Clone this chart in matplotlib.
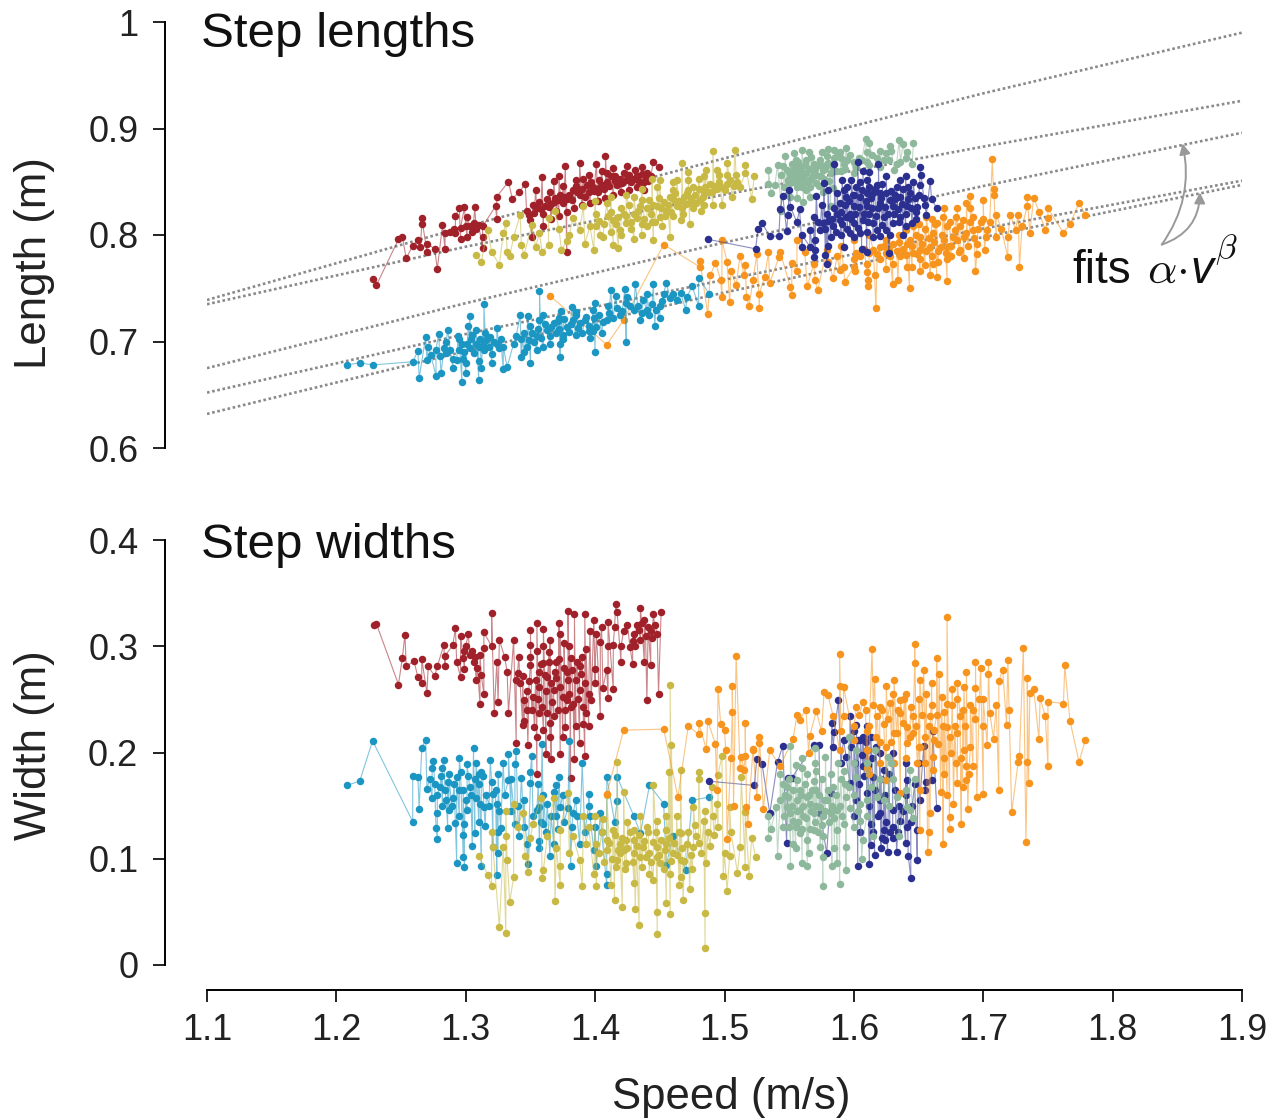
import matplotlib
matplotlib.use('Agg')
import matplotlib.pyplot as plt

plt.rcParams['font.family'] = ['Liberation Sans', 'DejaVu Sans']
plt.rcParams['mathtext.fontset'] = 'cm'

# colours of the six walkers
red = '#A0212A'
olive = '#C8B945'
blue = '#1B96C2'
orange = '#F7941E'
sage = '#8DB89B'
navy = '#2B2F8F'

fit_speed = [1.1, 1.3, 1.5, 1.7, 1.9]
fit_a = [0.739, 0.808, 0.872, 0.933, 0.990]
fit_b = [0.735, 0.789, 0.838, 0.883, 0.926]
fit_c = [0.675, 0.736, 0.793, 0.846, 0.896]
fit_d = [0.652, 0.707, 0.758, 0.806, 0.851]
fit_e = [0.632, 0.691, 0.746, 0.798, 0.847]

# step length (speed, length)
red_len = [(1.231,.753),(1.228,.759),(1.248,.796),(1.251,.798),(1.254,.778),(1.278,.768),(1.266,.816),(1.266,.810),(1.263,.795),(1.259,.790),(1.265,.789),(1.270,.792),(1.270,.784),(1.276,.787),(1.284,.787),(1.282,.809),(1.284,.802),(1.295,.825),(1.299,.826),(1.307,.826),(1.292,.818),(1.301,.817),(1.306,.811),(1.296,.807),(1.313,.808),(1.292,.802),(1.301,.798),(1.313,.798),(1.296,.796),(1.313,.788),(1.324,.836),(1.323,.827),(1.333,.850),(1.336,.834),(1.324,.815),
 (1.341,.840),(1.346,.848),(1.354,.842),(1.359,.854),(1.368,.851),(1.372,.855),(1.377,.865),(1.388,.868),(1.401,.867),(1.408,.874),(1.414,.863),(1.431,.861),(1.445,.869),(1.449,.864),(1.440,.858),
 (1.347,.823),(1.352,.828),(1.357,.831),(1.363,.834),(1.368,.831),(1.373,.838),(1.378,.834),(1.383,.842),(1.388,.838),(1.394,.847),(1.399,.841),(1.404,.845),(1.409,.850),(1.417,.847),(1.424,.852),(1.432,.855),(1.437,.849),(1.350,.814),(1.351,.798),(1.360,.820),(1.370,.823),(1.378,.784),(1.391,.853),(1.409,.858),(1.422,.858),
 (1.349,.819),(1.353,.821),(1.355,.825),(1.358,.824),(1.361,.827),(1.364,.826),(1.366,.829),(1.369,.835),(1.371,.833),(1.375,.830),(1.376,.836),(1.380,.838),(1.382,.833),(1.385,.846),(1.386,.840),(1.390,.843),(1.392,.836),(1.395,.840),(1.397,.850),(1.398,.845),(1.402,.840),(1.403,.852),(1.406,.847),(1.407,.843),(1.411,.846),(1.412,.855),(1.415,.851),(1.419,.853),(1.421,.849),(1.426,.856),(1.428,.850),(1.430,.853),(1.434,.851),(1.436,.857),(1.439,.853),(1.441,.851),(1.443,.855),(1.300,.808),(1.303,.808),(1.308,.806),(1.310,.809),(1.288,.803),(1.291,.806),(1.305,.803),
 (1.360,.808),(1.366,.815),(1.372,.818),(1.378,.822),(1.384,.825),(1.390,.828),(1.396,.830),(1.402,.832),(1.408,.835),(1.414,.838),(1.420,.840),(1.426,.842),(1.432,.845),(1.438,.842),(1.365,.840),(1.375,.846),(1.385,.852),(1.395,.856),(1.405,.860),(1.415,.855),(1.425,.865),(1.436,.864)]
olive_len = [(1.308,.781),(1.312,.775),(1.326,.772),(1.320,.784),(1.317,.805),(1.331,.811),(1.342,.819),(1.334,.780),(1.345,.781),(1.332,.784),(1.343,.791),(1.337,.798),(1.329,.802),(1.354,.789),(1.359,.784),(1.364,.791),(1.351,.809),(1.357,.802),(1.364,.816),(1.369,.823),(1.372,.806),(1.374,.786),(1.378,.794),(1.383,.816),(1.392,.792),(1.399,.786),(1.391,.827),(1.401,.808),(1.409,.830),(1.414,.791),(1.418,.788),(1.430,.796),(1.436,.800),(1.445,.795),(1.458,.798),(1.473,.810),(1.466,.814),(1.467,.868),(1.472,.859),(1.491,.879),(1.508,.880),(1.502,.868),(1.516,.866),(1.523,.855),(1.521,.834),(1.506,.836),(1.498,.828),(1.491,.828),(1.482,.823),(1.516,.858),(1.486,.861),(1.494,.861),(1.502,.856),(1.509,.856),(1.480,.853),(1.463,.852),(1.450,.852),(1.444,.853),
 (1.414,.814),(1.422,.820),(1.430,.836),(1.435,.827),(1.442,.833),(1.450,.817),(1.458,.836),(1.463,.827),(1.471,.839),(1.476,.845),(1.484,.839),(1.489,.848),(1.497,.845),(1.504,.852),(1.512,.845),(1.424,.811),(1.440,.808),(1.455,.823),(1.419,.805),(1.401,.820),(1.406,.798),(1.430,.820),(1.448,.827),(1.473,.830),(1.460,.842),(1.481,.833),
 (1.403,.813),(1.407,.810),(1.410,.818),(1.412,.822),(1.416,.810),(1.418,.817),(1.420,.825),(1.424,.818),(1.426,.828),(1.428,.812),(1.432,.816),(1.433,.823),(1.436,.833),(1.438,.815),(1.440,.825),(1.443,.820),(1.445,.828),(1.446,.812),(1.449,.835),(1.451,.825),(1.453,.831),(1.454,.818),(1.456,.828),(1.459,.822),(1.461,.833),(1.462,.839),(1.465,.832),(1.467,.825),(1.469,.836),(1.470,.829),(1.472,.842),(1.474,.835),(1.477,.838),(1.478,.830),(1.480,.843),(1.483,.836),(1.485,.845),(1.487,.840),(1.490,.840),(1.492,.846),(1.494,.843),(1.496,.850),(1.500,.842),(1.502,.848),(1.507,.846),(1.510,.850),
 (1.380,.800),(1.388,.805),(1.396,.808),(1.404,.800),(1.412,.803),(1.420,.800),(1.428,.806),(1.436,.810),(1.444,.812),(1.452,.808),(1.460,.818),(1.468,.820),(1.476,.825),(1.484,.828),(1.400,.832),(1.412,.836),(1.424,.838),(1.436,.843),(1.448,.845),(1.460,.850),(1.472,.852),(1.484,.855),(1.496,.856)]
blue_len = [(1.208,.678),(1.218,.680),(1.228,.678),(1.259,.681),(1.264,.666),(1.277,.668),(1.281,.670),(1.297,.662),(1.300,.670),(1.310,.664),(1.312,.675),(1.329,.674),(1.332,.676),(1.320,.680),(1.343,.685),(1.350,.680),(1.373,.685),(1.400,.690),(1.424,.700),(1.446,.715),(1.470,.730),(1.480,.733),(1.488,.745),(1.480,.760),(1.475,.752),(1.455,.755),(1.445,.754),(1.431,.754),(1.423,.749),(1.412,.748),(1.416,.743),(1.400,.736),(1.382,.732),(1.374,.729),(1.357,.747),(1.348,.724),(1.342,.725),(1.314,.735),(1.303,.724),(1.302,.715),(1.286,.711),(1.279,.707),(1.269,.704),(1.263,.691),(1.271,.695),(1.324,.713),(1.294,.705),(1.308,.711),
 (1.270,.683),(1.277,.692),(1.285,.689),(1.293,.683),(1.301,.698),(1.308,.698),(1.316,.701),(1.324,.698),(1.306,.689),(1.298,.684),(1.314,.692),(1.329,.695),(1.337,.698),(1.347,.695),(1.355,.705),(1.363,.711),(1.370,.708),(1.378,.714),(1.368,.717),(1.357,.720),(1.388,.717),(1.396,.703),(1.401,.714),(1.409,.720),(1.419,.725),(1.430,.730),(1.440,.730),(1.450,.733),(1.460,.745),(1.471,.742),(1.453,.745),(1.437,.739),(1.424,.736),(1.393,.723),(1.383,.720),(1.373,.698),(1.360,.695),(1.345,.708),(1.339,.705),
 (1.273,.687),(1.280,.686),(1.283,.694),(1.288,.692),(1.290,.684),(1.295,.692),(1.297,.698),(1.299,.690),(1.303,.694),(1.304,.702),(1.310,.695),(1.311,.702),(1.313,.697),(1.318,.695),(1.319,.704),(1.322,.700),(1.326,.694),(1.327,.702),(1.343,.702),(1.349,.701),(1.351,.708),(1.353,.700),(1.356,.712),(1.358,.703),(1.361,.716),(1.365,.705),(1.366,.714),(1.371,.719),(1.372,.712),(1.375,.706),(1.376,.721),(1.380,.709),(1.381,.716),(1.385,.725),(1.387,.713),(1.390,.708),(1.392,.720),(1.395,.715),(1.398,.710),(1.399,.722),(1.403,.725),(1.406,.718),(1.411,.727),(1.414,.722),(1.417,.731),(1.421,.729),(1.427,.733),(1.433,.733),(1.436,.727),(1.442,.725),(1.444,.735),(1.447,.730),(1.452,.738),(1.458,.741),(1.463,.739),(1.466,.746),
 (1.285,.700),(1.295,.702),(1.305,.706),(1.315,.708),(1.290,.675),(1.300,.680),(1.310,.682),(1.320,.688),(1.345,.690),(1.355,.692),(1.365,.698),(1.375,.702),(1.385,.706),(1.395,.710),(1.405,.708),(1.350,.715),(1.360,.725),(1.372,.722),(1.385,.728),(1.398,.730),(1.410,.733),(1.425,.742),(1.440,.745),(1.450,.722),(1.435,.720)]
orange_len = [(1.365,.743),(1.409,.697),(1.453,.791),(1.422,.720),
 (1.707,.871),(1.774,.830),(1.779,.819),(1.767,.810),(1.762,.802),(1.750,.825),(1.750,.816),(1.748,.805),(1.739,.835),(1.734,.836),(1.743,.822),(1.734,.827),(1.727,.819),(1.728,.770),(1.719,.779),(1.736,.802),(1.721,.819),(1.719,.798),(1.710,.819),(1.708,.843),(1.708,.838),(1.700,.833),(1.690,.837),(1.694,.766),(1.701,.786),(1.672,.757),(1.664,.761),(1.659,.762),(1.643,.750),(1.651,.766),(1.630,.754),(1.634,.758),(1.617,.731),(1.611,.752),(1.611,.758),(1.593,.756),(1.584,.760),(1.572,.748),(1.564,.752),(1.552,.744),(1.551,.751),(1.527,.731),(1.519,.733),(1.487,.726),(1.498,.795),(1.481,.776),(1.481,.770),(1.493,.774),(1.502,.775),(1.512,.780),(1.516,.772),(1.505,.766),(1.515,.762),(1.489,.762),(1.497,.758),(1.509,.753),(1.522,.758),(1.531,.761),(1.527,.745),(1.535,.755),(1.504,.737),(1.498,.742),(1.517,.742),(1.525,.782),(1.534,.784),(1.543,.784),(1.542,.779),(1.552,.774),(1.556,.766),(1.556,.795),(1.562,.784),(1.569,.773),(1.570,.758),(1.589,.767),(1.601,.766),(1.616,.762),
 (1.620,.789),(1.630,.792),(1.641,.792),(1.646,.783),(1.651,.798),(1.661,.802),(1.667,.789),(1.672,.808),(1.677,.798),(1.682,.808),(1.687,.802),(1.692,.805),(1.672,.777),(1.661,.773),(1.651,.777),(1.641,.770),(1.630,.773),(1.620,.777),(1.610,.773),(1.600,.777),(1.592,.770),(1.587,.780),(1.579,.786),(1.679,.817),(1.669,.817),(1.687,.830),(1.692,.817),(1.703,.805),(1.710,.798),(1.695,.792),(1.659,.789),(1.636,.780),(1.656,.817),(1.646,.808),(1.625,.783),(1.612,.783),(1.602,.783),(1.672,.789),(1.682,.786),(1.651,.786),(1.664,.811),
 (1.605,.780),(1.608,.787),(1.615,.786),(1.618,.782),(1.623,.790),(1.627,.786),(1.628,.780),(1.633,.785),(1.635,.793),(1.638,.787),(1.640,.781),(1.643,.795),(1.645,.790),(1.648,.800),(1.649,.782),(1.653,.792),(1.655,.806),(1.656,.785),(1.658,.797),(1.660,.780),(1.662,.793),(1.663,.810),(1.665,.785),(1.668,.800),(1.670,.795),(1.671,.783),(1.674,.812),(1.675,.790),(1.678,.805),(1.680,.795),(1.681,.784),(1.684,.814),(1.685,.798),(1.688,.790),(1.690,.812),(1.693,.797),(1.696,.806),(1.698,.812),(1.702,.798),(1.705,.812),(1.714,.806),(1.725,.805),(1.730,.808),
 (1.600,.795),(1.612,.800),(1.625,.795),(1.635,.800),(1.645,.770),(1.655,.772),(1.665,.775),(1.675,.780),(1.685,.778),(1.695,.782),(1.650,.810),(1.660,.815),(1.670,.825),(1.680,.825),(1.690,.825),(1.640,.805),(1.625,.768),(1.610,.765),(1.600,.770),(1.590,.790),(1.580,.775),(1.700,.815)]
sage_len = [(1.609,.890),(1.594,.882),(1.612,.886),(1.635,.889),(1.646,.886),(1.638,.885),(1.641,.878),(1.629,.879),(1.620,.879),(1.645,.867),(1.636,.869),(1.631,.861),(1.623,.870),(1.614,.875),(1.606,.870),(1.589,.878),(1.580,.881),(1.560,.880),(1.554,.877),(1.547,.874),(1.541,.866),(1.534,.861),(1.534,.848),(1.539,.847),(1.536,.839),(1.544,.823),(1.551,.836),(1.561,.831),(1.544,.856),
 (1.548,.861),(1.553,.855),(1.558,.864),(1.563,.858),(1.569,.867),(1.574,.855),(1.579,.867),(1.582,.858),(1.587,.874),(1.592,.867),(1.597,.875),(1.602,.864),(1.556,.845),(1.563,.842),(1.571,.849),(1.551,.849),(1.558,.855),(1.566,.852),(1.546,.845),(1.576,.861),(1.574,.870),(1.563,.870),(1.556,.864),(1.579,.874),(1.610,.869),(1.618,.872),(1.625,.877),(1.633,.867),(1.569,.858),(1.561,.849),(1.553,.861),(1.584,.844),(1.582,.827),
 (1.549,.852),(1.551,.857),(1.552,.867),(1.554,.850),(1.555,.858),(1.557,.851),(1.557,.869),(1.559,.860),(1.560,.845),(1.561,.855),(1.562,.866),(1.564,.850),(1.565,.862),(1.566,.845),(1.567,.873),(1.568,.854),(1.570,.862),(1.571,.856),(1.572,.866),(1.573,.846),(1.575,.865),(1.577,.853),(1.578,.862),(1.580,.868),(1.581,.851),(1.583,.865),(1.585,.872),(1.586,.860),(1.590,.872),(1.593,.862),(1.595,.870),(1.600,.869),(1.604,.872),(1.612,.866),(1.627,.870),
 (1.555,.870),(1.565,.878),(1.575,.878),(1.585,.880),(1.545,.865),(1.548,.838),(1.556,.835),(1.566,.836),(1.576,.840),(1.590,.860),(1.600,.858),(1.610,.878),(1.620,.864),(1.628,.884),(1.640,.872)]
navy_len = [(1.487,.796),(1.524,.787),(1.526,.806),(1.529,.811),(1.535,.799),(1.542,.799),(1.543,.824),(1.545,.837),(1.550,.842),(1.551,.826),(1.549,.819),(1.558,.824),(1.548,.804),(1.556,.812),(1.560,.789),(1.566,.789),(1.570,.786),(1.569,.779),(1.578,.781),(1.579,.773),(1.592,.789),(1.606,.787),(1.610,.784),(1.627,.783),(1.585,.867),(1.603,.869),(1.619,.867),(1.607,.860),(1.612,.859),(1.651,.864),(1.652,.856),(1.659,.851),(1.664,.825),(1.656,.819),(1.660,.834),(1.654,.835),(1.648,.815),(1.645,.811),(1.638,.800),(1.620,.799),(1.615,.798),(1.571,.837),(1.577,.849),(1.580,.842),(1.591,.852),(1.598,.852),(1.610,.852),(1.625,.855),(1.636,.852),(1.646,.850),(1.651,.847),
 (1.569,.817),(1.576,.811),(1.584,.808),(1.582,.798),(1.574,.805),(1.566,.805),(1.589,.830),(1.594,.836),(1.600,.827),(1.605,.836),(1.610,.827),(1.615,.839),(1.620,.830),(1.625,.839),(1.630,.827),(1.636,.836),(1.641,.827),(1.600,.811),(1.607,.814),(1.615,.811),(1.623,.817),(1.630,.811),(1.594,.817),(1.589,.814),(1.605,.802),(1.597,.802),(1.587,.839),(1.602,.845),(1.618,.847),(1.633,.845),(1.643,.839),(1.579,.820),(1.612,.820),(1.625,.805),(1.636,.817),(1.597,.820),(1.620,.839),(1.610,.839),
 (1.572,.812),(1.578,.806),(1.580,.813),(1.583,.815),(1.586,.803),(1.587,.820),(1.590,.822),(1.591,.810),(1.593,.828),(1.595,.806),(1.596,.832),(1.598,.815),(1.599,.838),(1.601,.820),(1.603,.807),(1.604,.826),(1.606,.842),(1.608,.820),(1.609,.832),(1.611,.812),(1.613,.835),(1.614,.825),(1.616,.843),(1.617,.818),(1.619,.825),(1.621,.835),(1.622,.809),(1.624,.826),(1.626,.820),(1.628,.833),(1.629,.841),(1.631,.820),(1.632,.834),(1.634,.824),(1.635,.812),(1.637,.829),(1.638,.843),(1.640,.820),(1.642,.834),(1.644,.825),(1.647,.835),(1.649,.826),
 (1.575,.828),(1.585,.825),(1.592,.842),(1.600,.838),(1.612,.845),(1.622,.848),(1.632,.838),(1.642,.845),(1.650,.838),(1.590,.800),(1.600,.798),(1.610,.803),(1.618,.805),(1.628,.800),(1.640,.808),(1.648,.822),(1.655,.828),(1.570,.795),(1.580,.790),(1.560,.800),(1.605,.850),(1.595,.845),(1.640,.855)]

# step width (speed, width)
red_wid = [(1.229,.320),(1.231,.321),(1.248,.264),(1.253,.311),(1.251,.289),(1.260,.286),(1.254,.281),(1.263,.271),(1.266,.265),(1.270,.256),(1.266,.288),(1.271,.281),(1.278,.281),(1.284,.281),(1.276,.272),(1.284,.291),(1.283,.301),(1.292,.317),(1.290,.301),(1.296,.310),(1.302,.312),(1.320,.331),(1.314,.313),(1.299,.296),(1.293,.285),(1.299,.279),(1.296,.271),(1.308,.268),(1.306,.285),(1.314,.298),(1.312,.273),(1.314,.255),(1.311,.246),(1.322,.237),(1.325,.248),(1.333,.237),(1.324,.285),(1.326,.306),(1.337,.306),(1.332,.276),(1.341,.290),(1.339,.268),(1.339,.209),(1.348,.207),(1.355,.180),(1.362,.199),(1.366,.194),(1.373,.199),(1.381,.176),(1.384,.194),(1.392,.197),(1.344,.226),(1.353,.224),(1.360,.221),(1.365,.215),(1.377,.224),(1.388,.209),(1.391,.227),(1.404,.234),(1.410,.251),(1.414,.260),(1.406,.261),(1.400,.279),(1.409,.278),(1.420,.285),(1.429,.283),(1.438,.285),(1.443,.282),(1.440,.249),(1.449,.255),(1.416,.340),(1.417,.332),(1.435,.336),(1.445,.330),(1.451,.332),(1.438,.325),(1.379,.333),(1.384,.330),(1.392,.330),(1.399,.325),(1.410,.323),(1.372,.322),(1.355,.322),(1.350,.315),(1.360,.316),(1.373,.312),(1.396,.314),(1.401,.312),(1.422,.314),(1.430,.312),(1.448,.312),(1.443,.314),(1.435,.306),(1.427,.299),(1.414,.301),(1.404,.304),(1.393,.297),(1.365,.306),(1.376,.303),(1.350,.301),(1.355,.296),(1.364,.295),(1.381,.289),(1.386,.285),(1.360,.284),(1.350,.282),(1.357,.276),(1.370,.270),(1.378,.276),(1.388,.281),(1.345,.249),(1.352,.252),(1.357,.262),(1.368,.259),(1.378,.249),(1.388,.259),(1.397,.249),(1.347,.240),(1.357,.237),(1.368,.234),(1.381,.243),(1.393,.237),(1.342,.265),(1.363,.271),
 (1.344,.272),(1.347,.258),(1.349,.267),(1.351,.240),(1.354,.268),(1.356,.250),(1.358,.283),(1.359,.243),(1.361,.273),(1.362,.258),(1.363,.237),(1.364,.285),(1.366,.265),(1.367,.248),(1.369,.276),(1.371,.240),(1.372,.288),(1.373,.262),(1.375,.252),(1.376,.280),(1.377,.240),(1.379,.268),(1.380,.255),(1.382,.278),(1.383,.246),(1.385,.268),(1.387,.250),(1.389,.274),(1.391,.243),(1.392,.265),(1.395,.255),(1.432,.320),(1.434,.315),(1.436,.322),(1.439,.310),(1.441,.318),(1.444,.308),(1.446,.320),(1.429,.305),(1.431,.300),(1.300,.300),(1.303,.292),(1.305,.296),(1.307,.290),(1.309,.280),(1.311,.292),(1.298,.289),
 (1.350,.290),(1.360,.300),(1.370,.285),(1.380,.300),(1.390,.290),(1.400,.265),(1.395,.225),(1.385,.225),(1.375,.215),(1.365,.228),(1.355,.215),(1.410,.300),(1.420,.300),(1.425,.320),(1.415,.318),(1.405,.318),(1.320,.300),(1.330,.290),(1.340,.275),(1.345,.230)]
blue_wid = [(1.208,.169),(1.218,.173),(1.228,.211),(1.259,.178),(1.263,.177),(1.266,.204),(1.269,.212),(1.259,.135),(1.264,.147),(1.270,.166),(1.274,.157),(1.274,.185),(1.275,.192),(1.283,.193),(1.287,.180),(1.280,.168),(1.285,.155),(1.290,.157),(1.278,.143),(1.287,.146),(1.277,.129),(1.278,.119),(1.286,.129),(1.292,.134),(1.293,.096),(1.299,.092),(1.298,.102),(1.305,.112),(1.298,.122),(1.307,.124),(1.299,.133),(1.301,.146),(1.298,.165),(1.293,.177),(1.301,.189),(1.308,.190),(1.306,.204),(1.303,.168),(1.312,.182),(1.308,.157),(1.314,.149),(1.321,.161),(1.324,.152),(1.319,.193),(1.329,.190),(1.333,.199),(1.339,.201),(1.338,.189),(1.333,.174),(1.343,.176),(1.351,.197),(1.350,.182),(1.350,.171),(1.359,.208),(1.380,.211),(1.390,.190),(1.372,.177),(1.370,.169),(1.356,.170),(1.368,.163),(1.357,.149),(1.370,.140),(1.383,.143),(1.395,.161),(1.409,.177),(1.417,.177),(1.442,.169),(1.417,.154),(1.324,.085),(1.312,.093),(1.321,.111),(1.325,.105),(1.315,.131),(1.327,.129),(1.338,.133),(1.341,.121),(1.347,.114),(1.357,.117),(1.348,.095),(1.365,.103),(1.357,.110),(1.368,.114),(1.381,.093),(1.401,.093),(1.409,.075),(1.409,.086),(1.399,.108),(1.388,.114),(1.435,.124),(1.453,.152),(1.460,.121),(1.475,.155),(1.488,.158),(1.470,.089),(1.455,.094),(1.430,.140),(1.404,.143),(1.363,.152),(1.355,.146),(1.373,.149),(1.360,.133),
 (1.272,.175),(1.276,.170),(1.278,.160),(1.281,.178),(1.284,.165),(1.286,.172),(1.289,.150),(1.291,.170),(1.295,.165),(1.296,.182),(1.300,.155),(1.302,.178),(1.304,.160),(1.307,.175),(1.310,.170),(1.311,.152),(1.313,.178),(1.316,.160),(1.318,.150),(1.320,.172),(1.323,.165),(1.326,.145),(1.330,.160),(1.335,.145),(1.340,.150),(1.345,.155),(1.352,.140),(1.358,.135),(1.362,.125),(1.366,.140),(1.371,.128),(1.376,.135),(1.379,.148),(1.382,.130),(1.386,.140),(1.392,.125),(1.396,.140),(1.400,.130),
 (1.282,.185),(1.295,.195),(1.310,.180),(1.325,.180),(1.335,.175),(1.282,.150),(1.295,.140),(1.310,.135),(1.325,.125),(1.345,.130),(1.360,.160),(1.375,.160),(1.385,.155),(1.395,.150),(1.405,.125),(1.415,.135)]
olive_wid = [(1.310,.103),(1.317,.085),(1.320,.074),(1.326,.036),(1.331,.030),(1.334,.059),(1.337,.083),(1.348,.088),(1.359,.082),(1.369,.060),(1.373,.075),(1.390,.074),(1.401,.074),(1.415,.061),(1.421,.055),(1.431,.053),(1.434,.038),(1.448,.050),(1.448,.029),(1.458,.048),(1.455,.058),(1.485,.049),(1.485,.016),(1.468,.061),(1.502,.070),(1.519,.084),(1.510,.087),(1.499,.084),(1.516,.092),(1.521,.120),(1.524,.102),(1.512,.111),(1.504,.103),(1.492,.122),(1.516,.144),(1.513,.177),(1.495,.179),(1.490,.168),(1.498,.197),(1.480,.182),(1.480,.175),(1.466,.184),(1.459,.207),(1.458,.264),(1.457,.182),(1.445,.169),(1.417,.191),(1.409,.160),(1.422,.163),(1.379,.162),(1.368,.157),(1.358,.157),(1.337,.152),(1.331,.145),(1.320,.125),(1.331,.121),(1.321,.111),(1.329,.111),(1.332,.099),(1.346,.103),(1.344,.143),(1.352,.133),(1.363,.121),(1.373,.127),(1.383,.121),(1.391,.140),(1.393,.114),(1.406,.137),(1.414,.127),(1.422,.108),(1.430,.118),(1.440,.130),(1.448,.111),(1.455,.127),(1.463,.140),(1.471,.114),(1.478,.121),(1.484,.136),(1.491,.140),(1.494,.152),(1.504,.149),(1.460,.105),(1.450,.096),(1.442,.105),(1.435,.102),(1.424,.096),(1.417,.099),(1.409,.108),(1.401,.114),(1.419,.114),(1.430,.105),(1.448,.102),(1.466,.099),(1.476,.111),(1.486,.096),(1.466,.083),(1.473,.072),(1.458,.086),(1.442,.086),(1.430,.077),(1.399,.086),(1.388,.099),(1.373,.093),(1.360,.089),(1.466,.124),(1.476,.149),(1.448,.136),(1.430,.127),(1.409,.118),(1.419,.105),(1.455,.114),(1.437,.111),(1.424,.118),
 (1.403,.105),(1.405,.125),(1.407,.097),(1.411,.115),(1.413,.100),(1.415,.122),(1.416,.092),(1.418,.108),(1.421,.120),(1.423,.090),(1.425,.110),(1.427,.125),(1.429,.097),(1.432,.112),(1.434,.122),(1.436,.092),(1.438,.117),(1.439,.102),(1.441,.125),(1.443,.097),(1.445,.116),(1.447,.125),(1.449,.104),(1.451,.118),(1.453,.090),(1.454,.108),(1.457,.120),(1.459,.098),(1.461,.115),(1.463,.104),(1.465,.125),(1.467,.110),(1.469,.098),(1.472,.125),(1.474,.104),(1.477,.132),(1.480,.115),(1.482,.105),(1.487,.125),(1.489,.112),
 (1.340,.130),(1.350,.120),(1.370,.110),(1.380,.105),(1.395,.130),(1.400,.140),(1.412,.075),(1.425,.135),(1.435,.140),(1.445,.080),(1.455,.140),(1.465,.075),(1.475,.090),(1.485,.145),(1.495,.130),(1.505,.125),(1.500,.105)]
orange_wid = [(1.422,.221),(1.453,.222),(1.409,.161),(1.509,.291),(1.495,.260),(1.506,.263),(1.506,.238),(1.516,.228),(1.472,.225),(1.480,.228),(1.487,.230),(1.480,.217),(1.497,.227),(1.500,.221),(1.493,.208),(1.486,.203),(1.501,.202),(1.505,.195),(1.516,.197),(1.522,.203),(1.512,.185),(1.517,.149),(1.464,.158),(1.494,.165),(1.502,.119),
 (1.672,.328),(1.647,.302),(1.614,.297),(1.589,.293),(1.731,.298),(1.763,.282),(1.762,.246),(1.767,.230),(1.779,.212),(1.774,.191),(1.750,.187),(1.750,.248),(1.744,.251),(1.748,.234),(1.743,.213),(1.734,.191),(1.727,.191),(1.728,.197),(1.735,.171),(1.722,.144),(1.733,.116),(1.712,.165),(1.700,.161),(1.688,.147),(1.683,.133),(1.674,.128),(1.674,.139),(1.669,.114),(1.657,.106),(1.658,.125),(1.651,.127),(1.719,.287),(1.704,.285),(1.694,.285),(1.715,.278),(1.704,.274),(1.687,.276),(1.698,.280),(1.734,.270),(1.739,.260),(1.736,.256),(1.712,.267),(1.694,.261),(1.685,.262),(1.676,.260),(1.664,.289),(1.666,.274),(1.647,.284),(1.654,.278),(1.651,.268),(1.631,.268),(1.616,.269),(1.625,.263),(1.592,.262),(1.589,.263),(1.577,.257),(1.580,.254),(1.563,.240),(1.571,.239),(1.556,.235),(1.558,.231),(1.527,.215),(1.527,.209),(1.522,.202),(1.535,.202),(1.513,.196),(1.507,.150),(1.530,.147),(1.525,.158),(1.518,.133),(1.543,.187),(1.553,.213),(1.566,.216),(1.584,.234),(1.607,.248),(1.620,.243),(1.636,.249),(1.646,.234),(1.633,.218),(1.623,.227),(1.646,.218),(1.662,.221),(1.672,.246),(1.682,.234),(1.692,.240),(1.705,.237),(1.708,.213),(1.718,.226),(1.703,.207),(1.680,.218),(1.685,.202),(1.687,.187),(1.692,.187),(1.680,.171),(1.687,.174),(1.695,.158),(1.677,.152),(1.667,.163),(1.672,.160),(1.661,.196),(1.651,.205),(1.641,.209),(1.631,.218),(1.625,.205),(1.662,.212),(1.672,.224),(1.659,.234),(1.636,.237),(1.641,.224),(1.618,.234),(1.602,.243),(1.592,.234),(1.600,.212),(1.589,.202),(1.610,.202),(1.620,.190),(1.631,.190),(1.612,.180),(1.649,.190),(1.661,.184),(1.651,.165),(1.636,.162),(1.625,.174),(1.659,.143),(1.515,.184),
 (1.604,.235),(1.609,.240),(1.612,.225),(1.615,.245),(1.617,.215),(1.622,.240),(1.626,.232),(1.628,.247),(1.629,.210),(1.634,.240),(1.638,.228),(1.639,.250),(1.643,.215),(1.644,.243),(1.648,.225),(1.650,.250),(1.653,.235),(1.655,.215),(1.656,.255),(1.658,.225),(1.660,.245),(1.664,.235),(1.665,.208),(1.668,.252),(1.669,.225),(1.670,.238),(1.674,.215),(1.676,.245),(1.678,.225),(1.680,.250),(1.684,.240),(1.686,.225),(1.690,.245),(1.694,.232),(1.697,.250),(1.700,.225),(1.683,.195),(1.689,.180),(1.684,.168),(1.679,.190),(1.675,.200),
 (1.610,.220),(1.620,.210),(1.630,.255),(1.640,.255),(1.650,.205),(1.660,.265),(1.670,.195),(1.680,.265),(1.690,.205),(1.700,.250),(1.710,.245),(1.720,.240),(1.640,.195),(1.655,.190),(1.670,.180),(1.600,.225),(1.590,.220),(1.575,.220),(1.565,.200),(1.610,.185)]
sage_wid = [(1.576,.074),(1.589,.076),(1.551,.093),(1.560,.096),(1.564,.093),(1.541,.103),(1.583,.093),(1.594,.089),(1.606,.100),(1.587,.096),(1.534,.120),(1.536,.128),(1.534,.140),(1.540,.149),(1.543,.180),(1.551,.206),(1.555,.188),(1.560,.195),(1.596,.215),(1.570,.204),(1.578,.196),(1.588,.190),(1.602,.202),(1.616,.202),(1.626,.196),(1.610,.190),(1.629,.190),(1.643,.184),(1.647,.175),(1.643,.146),(1.646,.138),(1.635,.121),(1.615,.121),(1.607,.118),(1.594,.111),(1.576,.102),
 (1.548,.168),(1.556,.174),(1.564,.180),(1.571,.183),(1.582,.180),(1.592,.183),(1.602,.177),(1.613,.168),(1.623,.155),(1.633,.158),(1.641,.149),(1.548,.149),(1.556,.155),(1.564,.158),(1.571,.165),(1.579,.155),(1.587,.146),(1.594,.158),(1.605,.152),(1.545,.130),(1.553,.136),(1.561,.140),(1.569,.143),(1.576,.140),(1.558,.124),(1.569,.127),(1.576,.121),(1.587,.127),(1.553,.114),(1.564,.118),(1.574,.111),(1.592,.133),(1.605,.136),(1.543,.155),(1.551,.143),(1.558,.146),(1.566,.152),(1.574,.149),(1.582,.143),(1.549,.158),(1.558,.165),(1.569,.173),(1.584,.168),(1.596,.168),
 (1.546,.140),(1.547,.160),(1.550,.130),(1.552,.150),(1.553,.165),(1.555,.130),(1.556,.145),(1.557,.135),(1.559,.160),(1.560,.128),(1.561,.150),(1.562,.170),(1.563,.138),(1.565,.160),(1.566,.128),(1.567,.145),(1.568,.165),(1.570,.135),(1.571,.150),(1.572,.125),(1.573,.160),(1.575,.132),(1.577,.155),(1.578,.145),(1.580,.165),(1.581,.135),(1.583,.150),(1.585,.138),(1.586,.160),(1.589,.150),(1.591,.140),(1.593,.170),(1.597,.148),(1.600,.160),(1.603,.145),(1.610,.155),(1.618,.158),(1.627,.150),
 (1.545,.170),(1.555,.110),(1.565,.105),(1.575,.175),(1.585,.110),(1.590,.175),(1.600,.130),(1.610,.140),(1.620,.175),(1.630,.175),(1.640,.165),(1.600,.190),(1.570,.190),(1.560,.185),(1.550,.175)]
navy_wid = [(1.588,.249),(1.597,.234),(1.583,.228),(1.602,.226),(1.585,.219),(1.545,.206),(1.525,.194),(1.529,.189),(1.541,.191),(1.488,.173),(1.523,.169),(1.549,.176),(1.552,.176),(1.569,.207),(1.573,.207),(1.607,.215),(1.613,.215),(1.654,.206),(1.661,.220),(1.660,.174),(1.656,.172),(1.664,.148),(1.644,.082),(1.649,.099),(1.642,.103),(1.633,.106),(1.626,.106),(1.621,.110),(1.612,.095),(1.603,.093),(1.616,.104),(1.613,.113),(1.548,.115),(1.579,.105),(1.623,.127),(1.630,.130),(1.641,.130),(1.649,.127),(1.624,.118),(1.535,.143),
 (1.605,.212),(1.610,.202),(1.607,.187),(1.615,.177),(1.597,.171),(1.610,.162),(1.620,.155),(1.630,.146),(1.600,.140),(1.613,.133),(1.594,.196),(1.584,.205),(1.623,.184),(1.641,.174),(1.651,.155),(1.636,.136),(1.620,.143),(1.602,.155),(1.582,.162),(1.574,.143),(1.592,.212),
 (1.598,.205),(1.601,.190),(1.603,.212),(1.604,.170),(1.606,.198),(1.608,.178),(1.609,.210),(1.611,.188),(1.612,.150),(1.614,.195),(1.616,.165),(1.617,.205),(1.619,.140),(1.621,.175),(1.622,.120),(1.624,.160),(1.625,.135),(1.627,.180),(1.628,.125),(1.632,.165),(1.634,.125),(1.638,.145),(1.640,.160),(1.644,.135),(1.647,.170),
 (1.590,.190),(1.600,.220),(1.610,.225),(1.620,.200),(1.630,.200),(1.640,.190),(1.650,.190),(1.655,.165),(1.645,.150),(1.635,.150),(1.630,.120),(1.640,.115),(1.615,.125),(1.605,.125)]

x_ticks = [1.1, 1.2, 1.3, 1.4, 1.5, 1.6, 1.7, 1.8, 1.9]
x_labels = ['1.1', '1.2', '1.3', '1.4', '1.5', '1.6', '1.7', '1.8', '1.9']
len_ticks = [0.6, 0.7, 0.8, 0.9, 1.0]
len_labels = ['0.6', '0.7', '0.8', '0.9', '1']
wid_ticks = [0, 0.1, 0.2, 0.3, 0.4]
wid_labels = ['0', '0.1', '0.2', '0.3', '0.4']

W, H = 1276, 1120
fig = plt.figure(figsize=(W / 100, H / 100), dpi=100)
ax1 = fig.add_axes([207 / W, 1 - 448 / H, 1035 / W, 426 / H])
ax2 = fig.add_axes([207 / W, 1 - 965 / H, 1035 / W, 425 / H])


def walk(ax, pairs, color):
    pts = sorted(pairs)
    xs = [p[0] for p in pts]
    ys = [p[1] for p in pts]
    ax.plot(xs, ys, '-', color=color, lw=0.8, alpha=0.55, clip_on=False)
    ax.plot(xs, ys, 'o', color=color, ms=5.4, mew=0, clip_on=False)


for fit in [fit_a, fit_b, fit_c, fit_d, fit_e]:
    ax1.plot(fit_speed, fit, color='#8a8a8a', lw=1.9, ls=(0, (1, 1)))

for pairs, c in [(red_len, red), (olive_len, olive), (orange_len, orange),
                 (blue_len, blue), (sage_len, sage), (navy_len, navy)]:
    walk(ax1, pairs, c)

for pairs, c in [(red_wid, red), (blue_wid, blue), (olive_wid, olive),
                 (navy_wid, navy), (orange_wid, orange), (sage_wid, sage)]:
    walk(ax2, pairs, c)

for ax in [ax1, ax2]:
    ax.set_xlim(1.1, 1.9)
    ax.patch.set_alpha(0)
    for s in ['top', 'right']:
        ax.spines[s].set_visible(False)
    ax.spines['left'].set_position(('outward', 30))
    ax.spines['left'].set_linewidth(1.4)
    ax.tick_params(axis='y', length=8.5, width=1.4, pad=11, labelsize=26, colors='#222222')

ax1.set_ylim(0.6, 1)
ax1.set_yticks(len_ticks, len_labels)
ax1.spines['bottom'].set_visible(False)
ax1.set_xticks([])

ax2.set_ylim(0, 0.4)
ax2.set_yticks(wid_ticks, wid_labels)
ax2.spines['bottom'].set_position(('outward', 18))
ax2.spines['bottom'].set_linewidth(1.4)
ax2.set_xticks(x_ticks, x_labels)
ax2.tick_params(axis='x', length=8.5, width=1.4, pad=8, labelsize=26, colors='#222222')

ax1.text(1.095, 0.9765, 'Step lengths', fontsize=35.5, va='baseline', color='#111111')
ax2.text(1.095, 0.383, 'Step widths', fontsize=35.5, va='baseline', color='#111111')

fig.text(35 / W, 1 - 263 / H, 'Length (m)', rotation=90, fontsize=31.5, ha='center', va='center', color='#222222')
fig.text(35 / W, 1 - 745 / H, 'Width (m)', rotation=90, fontsize=31.5, ha='center', va='center', color='#222222')
fig.text(731 / W, 1 - 1098 / H, 'Speed (m/s)', fontsize=31.5, ha='center', va='center', color='#222222')

# note: plain word, greek from mathtext, sans italic v
ax1.text(1.7686, 0.755, 'fits', fontsize=33, va='baseline', color='#111111')
ax1.text(1.8265, 0.755, r'$\alpha{\cdot}$', fontsize=33, va='baseline', color='#111111')
ax1.text(1.8605, 0.755, 'v', fontsize=33, style='italic', va='baseline', color='#111111')
ax1.text(1.8790, 0.778, r'$\beta$', fontsize=25, va='baseline', color='#111111')
ax1.annotate('', xy=(1.854, 0.886), xytext=(1.838, 0.791),
             arrowprops=dict(arrowstyle='-|>', color='#999999', lw=1.4, mutation_scale=16,
                             shrinkA=0, shrinkB=0, connectionstyle='arc3,rad=0.22'))
ax1.annotate('', xy=(1.8675, 0.840), xytext=(1.838, 0.791),
             arrowprops=dict(arrowstyle='-|>', color='#999999', lw=1.4, mutation_scale=16,
                             shrinkA=0, shrinkB=0, connectionstyle='arc3,rad=0.35'))

fig.savefig('out.png', dpi=100, facecolor='white')
